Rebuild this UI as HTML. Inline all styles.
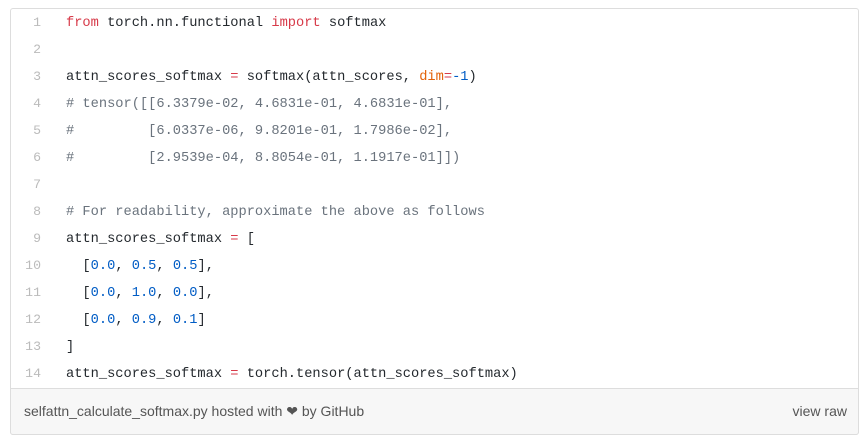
<!DOCTYPE html>
<html><head><meta charset="utf-8"><style>
body{margin:0;width:867px;height:440px;background:#fff;overflow:hidden;font-family:"Liberation Sans",sans-serif}
.box{position:absolute;left:10px;top:8px;width:847px;height:425px;border:1px solid #ddd;border-radius:3px;background:#fff}
.ln{position:absolute;left:0;width:41px;text-align:right;font:13.2px "Liberation Mono",monospace;color:#bbb}
.c{position:absolute;left:66px;font:13.7px "Liberation Mono",monospace;color:#24292e;white-space:pre}
.k{color:#d73a49}.n{color:#005cc5}.cm{color:#6a737d}.o{color:#e36209}
.foot{position:absolute;left:10px;top:388px;width:847px;height:45px;background:#f7f7f7;border:1px solid #ddd;border-radius:0 0 3px 3px;font-size:14px;color:#555}
</style></head><body>
<div class="box"></div>
<div class="foot"><span style="position:absolute;left:13px;top:14px">selfattn_calculate_softmax.py hosted with ❤ by GitHub</span><span style="position:absolute;right:11px;top:14px">view raw</span></div>
<div class="ln" style="top:15px">1</div><div class="c" style="top:16px"><span class="k">from</span> torch.nn.functional <span class="k">import</span> softmax</div>
<div class="ln" style="top:42px">2</div>
<div class="ln" style="top:69px">3</div><div class="c" style="top:70px">attn_scores_softmax <span class="k">=</span> softmax(attn_scores, <span class="o">dim</span><span class="k">=</span><span class="n">-1</span>)</div>
<div class="ln" style="top:96px">4</div><div class="c cm" style="top:97px"># tensor([[6.3379e-02, 4.6831e-01, 4.6831e-01],</div>
<div class="ln" style="top:123px">5</div><div class="c cm" style="top:124px">#         [6.0337e-06, 9.8201e-01, 1.7986e-02],</div>
<div class="ln" style="top:150px">6</div><div class="c cm" style="top:151px">#         [2.9539e-04, 8.8054e-01, 1.1917e-01]])</div>
<div class="ln" style="top:177px">7</div>
<div class="ln" style="top:204px">8</div><div class="c cm" style="top:205px"># For readability, approximate the above as follows</div>
<div class="ln" style="top:231px">9</div><div class="c" style="top:232px">attn_scores_softmax <span class="k">=</span> [</div>
<div class="ln" style="top:258px">10</div><div class="c" style="top:259px">  [<span class="n">0.0</span>, <span class="n">0.5</span>, <span class="n">0.5</span>],</div>
<div class="ln" style="top:285px">11</div><div class="c" style="top:286px">  [<span class="n">0.0</span>, <span class="n">1.0</span>, <span class="n">0.0</span>],</div>
<div class="ln" style="top:312px">12</div><div class="c" style="top:313px">  [<span class="n">0.0</span>, <span class="n">0.9</span>, <span class="n">0.1</span>]</div>
<div class="ln" style="top:339px">13</div><div class="c" style="top:340px">]</div>
<div class="ln" style="top:366px">14</div><div class="c" style="top:367px">attn_scores_softmax <span class="k">=</span> torch.tensor(attn_scores_softmax)</div>
</body></html>
